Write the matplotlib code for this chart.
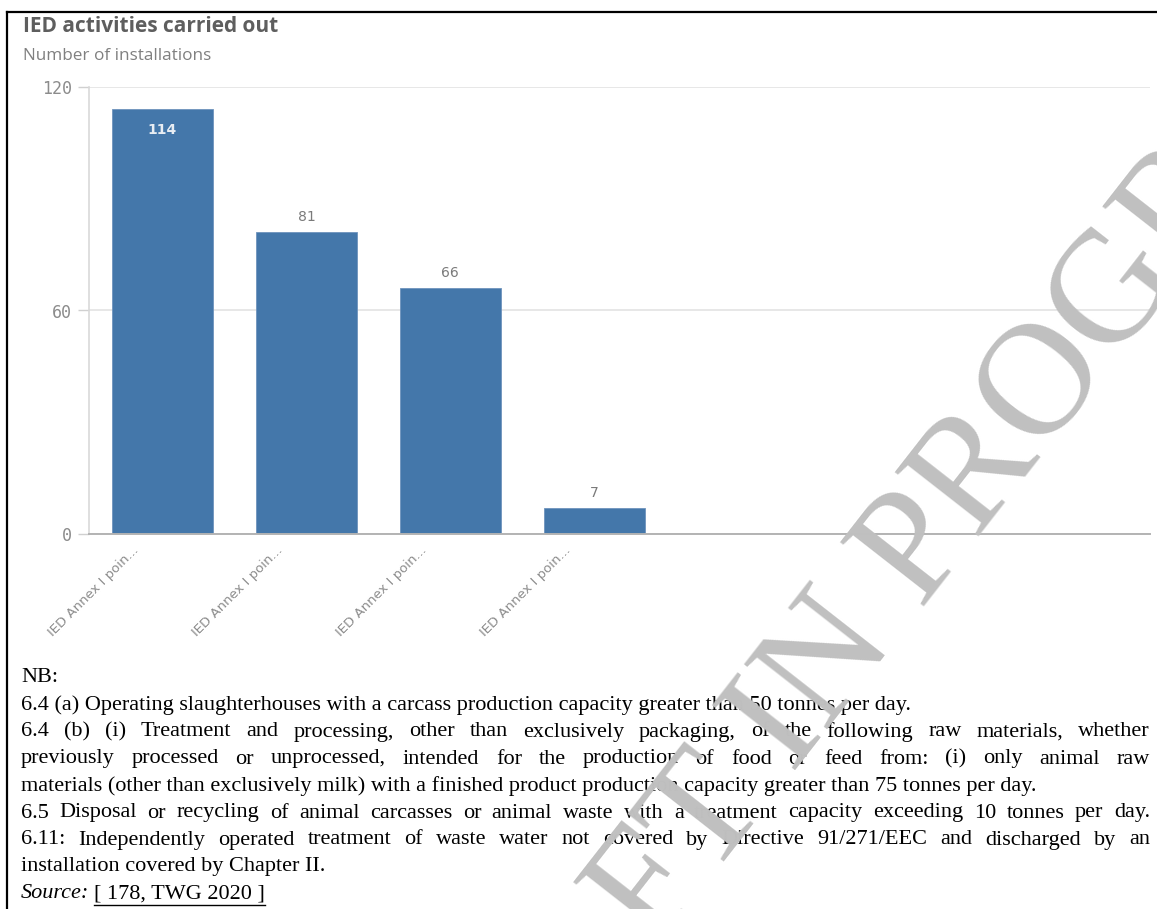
import numpy as np
import matplotlib
matplotlib.use("Agg")
import matplotlib.pyplot as plt
from matplotlib.lines import Line2D
from matplotlib.transforms import ScaledTranslation

W, H = 1157, 909

# data
categories = ["IED Annex I poin...", "IED Annex I poin...", "IED Annex I poin...", "IED Annex I poin..."]
values = [114, 81, 66, 7]
yticks = [0, 60, 120]

title = "IED activities carried out"
subtitle = "Number of installations"
notes = [
    ("NB:", False),
    ("6.4 (a) Operating slaughterhouses with a carcass production capacity greater than 50 tonnes per day.", False),
    ("6.4 (b) (i) Treatment and processing, other than exclusively packaging, of the following raw materials, whether", True),
    ("previously processed or unprocessed, intended for the production of food or feed from:  (i)  only animal raw", True),
    ("materials (other than exclusively milk) with a finished product production capacity greater than 75 tonnes per day.", False),
    ("6.5 Disposal or recycling of animal carcasses or animal waste with a treatment capacity exceeding 10 tonnes per day.", True),
    ("6.11: Independently operated treatment of waste water not covered by Directive 91/271/EEC and discharged by an", True),
    ("installation covered by Chapter II.", False),
]
source_label = "Source:"
source_ref = "[ 178, TWG 2020 ]"
watermark = "WORKING DRAFT IN PROGRESS"


def fx(px):
    return px / W


def fy(py):
    return 1 - py / H


fig = plt.figure(figsize=(W / 100, H / 100), dpi=100)
fig.patch.set_facecolor("white")
renderer = fig.canvas.get_renderer()

# chart
ax = fig.add_axes([fx(89), fy(534), (1150 - 89) / W, (534 - 87) / H])
x = np.arange(len(values))
bars = ax.bar(x, values, width=0.7, color="#4477aa", edgecolor="#6e93bd", linewidth=0.6, zorder=3)
ax.set_xlim(-0.51, 6.86)
ax.set_ylim(0, 120)
ax.set_yticks(yticks)
ax.set_yticklabels([str(v) for v in yticks], family="DejaVu Sans Mono", fontsize=12)
ax.yaxis.grid(True, color="#e3e3e3", linewidth=1.2)
ax.set_axisbelow(True)
for s in ["top", "right"]:
    ax.spines[s].set_visible(False)
ax.spines["left"].set_color("#d9d9d9")
ax.spines["left"].set_linewidth(1.2)
ax.spines["bottom"].set_color("#b3b3b3")
ax.spines["bottom"].set_linewidth(1.4)
ax.spines["bottom"].set_zorder(4)
ax.tick_params(axis="y", length=8, width=1, color="#d0d0d0", labelcolor="#8c8c8c", pad=4)
ax.tick_params(axis="x", length=0, pad=4)

ax.set_xticks(x)
ax.set_xticklabels(categories, rotation=45, ha="right", rotation_mode="anchor",
                   fontsize=9.5, color="#8c8c8c", family="DejaVu Sans")
for lbl in ax.get_xticklabels():
    lbl.set_transform(lbl.get_transform() + ScaledTranslation(-0.30, -0.04, fig.dpi_scale_trans))

for b, v in zip(bars, values):
    cx = b.get_x() + b.get_width() / 2
    if v > 100:
        ax.annotate(str(v), (cx, v), xytext=(0, -10), textcoords="offset points",
                    ha="center", va="top", color="#e8edf3", fontsize=10, weight="bold")
    else:
        ax.annotate(str(v), (cx, v), xytext=(0, 6), textcoords="offset points",
                    ha="center", va="bottom", color="#7a7a7a", fontsize=10)

# titles
fig.text(fx(23), fy(27), title, fontsize=15, weight="bold", color="#5e5e5e",
         va="center", family="Open Sans")
fig.text(fx(23), fy(56), subtitle, fontsize=12.3, color="#808080", va="center", family="Open Sans")

# notes
serif = "Liberation Serif"
fs = 16
left, right = 21, 1150
y0, dy = 678, 27
for i, (line, just) in enumerate(notes):
    py = y0 + i * dy
    if not just:
        fig.text(fx(left), fy(py), line, fontsize=fs, family=serif, va="center", color="black")
        continue
    words = line.split()
    texts = [fig.text(0, fy(py), w, fontsize=fs, family=serif, va="center", color="black") for w in words]
    widths = [t.get_window_extent(renderer).width for t in texts]
    gap = max((right - left - sum(widths)) / (len(words) - 1), 3)
    pos = left
    for t, w in zip(texts, widths):
        t.set_x(fx(pos))
        pos += w + gap

py = y0 + len(notes) * dy
t1 = fig.text(fx(left), fy(py), source_label, fontsize=fs, family=serif, style="italic", va="center")
w1 = t1.get_window_extent(renderer).width
wsp = 5
t2 = fig.text(fx(left + w1 + wsp), fy(py), source_ref, fontsize=fs, family=serif, va="center")
w2 = t2.get_window_extent(renderer).width
fig.add_artist(Line2D([fx(left + w1 + wsp), fx(left + w1 + wsp + w2)], [fy(py + 11), fy(py + 11)],
                      transform=fig.transFigure, color="black", lw=1))

# watermark, placed so the "O" of PROGRESS sits where it does in the source
theta = 52
wfs = 115
probe = fig.text(0, 0, "WORKING DRAFT IN PR", fontsize=wfs, family=serif)
pre = probe.get_window_extent(renderer).width
probe.set_text("O")
ow = probe.get_window_extent(renderer).width
probe.remove()
em = wfs * 100 / 72
d = np.array([np.cos(np.radians(theta)), np.sin(np.radians(theta))])
up = np.array([-d[1], d[0]])
oc = np.array([1035, H - 378])
base = oc - 0.33 * em * up
start = base - (pre + ow / 2) * d
fig.text(start[0] / W, start[1] / H, watermark, fontsize=wfs, family=serif, color="#c0c0c0",
         rotation=theta, rotation_mode="anchor", ha="left", va="baseline", zorder=20)

# page border
fig.add_artist(Line2D([fx(7), fx(7)], [0, fy(12)], transform=fig.transFigure, color="black", lw=1.6))
fig.add_artist(Line2D([fx(7), 1], [fy(12), fy(12)], transform=fig.transFigure, color="black", lw=1.6))

fig.savefig("out.png", dpi=100)
